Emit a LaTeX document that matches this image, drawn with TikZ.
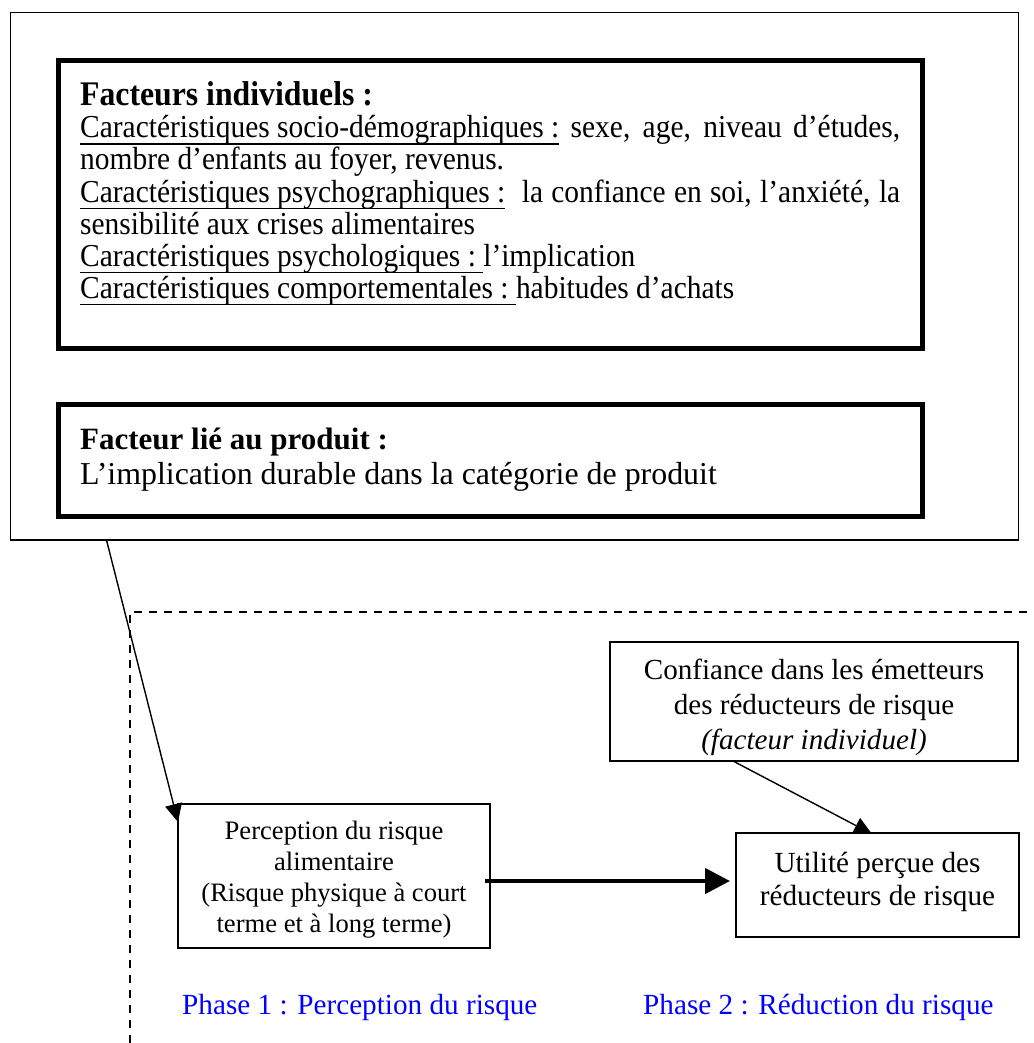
\documentclass[tikz,border=0pt]{standalone}
\usepackage{fontspec}
\setmainfont{Liberation Serif}
% slightly narrowed face for the individual-factors box
\newfontfamily\narrowserif[FakeStretch=0.92]{Liberation Serif}
\usetikzlibrary{arrows.meta,calc}
\definecolor{phaseblue}{RGB}{0,0,255}
% underline drawn at a fixed depth below the baseline
\newcommand\undl[1]{\leavevmode\setbox0\hbox{#1}\rlap{\rule[-7pt]{\wd0}{1.5pt}}\box0\relax}
\newcommand\fs[2]{\fontsize{#1}{#2}\selectfont}
% a line stretched to the full text width of the factor boxes
\newcommand\jline[1]{\hbox to 820pt{#1}}

\begin{document}
\begin{tikzpicture}[x=1pt,y=-1pt,
  framebox/.style={draw, line width=1.5pt, inner sep=0, outer sep=0, anchor=north west},
  thickbox/.style={draw, line width=5pt, inner sep=0, outer sep=0, anchor=north west},
  plainbox/.style={draw, line width=1.4pt, inner sep=0, outer sep=0, anchor=north west},
  txt/.style={inner sep=0, anchor=base west},
  ctxt/.style={inner sep=0, anchor=base},
  indivtxt/.style={txt, font=\narrowserif\fs{32}{32}},
  link/.style={line width=1.4pt, -{Triangle[length=18pt,width=17pt]}},
  boldlink/.style={line width=4.5pt, -{Triangle[length=25pt,width=25pt]}},
  phase/.style={txt, text=phaseblue, font=\fs{29.2}{33}},
  ]
\useasboundingbox (0,0) rectangle (1033,1043);

% outer frame holding the two groups of factors
\node[framebox, minimum width=1008pt, minimum height=527.7pt] (outer) at (10.5,12.3) {};

% individual factors
\node[thickbox, minimum width=864pt, minimum height=287pt] (indiv) at (58.5,61) {};
\node[txt, font=\narrowserif\bfseries\fs{34.5}{36}] (indivT) at (80,106) {Facteurs individuels :};
\node[indivtxt] (indivA) at (80,138)
  {\jline{\undl{Caractéristiques socio-démographiques :} sexe, age, niveau d’études,}};
\node[indivtxt] (indivB) at (80,170) {nombre d’enfants au foyer, revenus.};
\node[indivtxt] (indivC) at (80,202)
  {\jline{\undl{Caractéristiques psychographiques :}\ \ la confiance en soi, l’anxiété, la}};
\node[indivtxt] (indivD) at (80,234) {sensibilité aux crises alimentaires};
\node[indivtxt] (indivE) at (80,266) {\undl{Caractéristiques psychologiques :\ }l’implication};
\node[indivtxt] (indivF) at (80,298) {\undl{Caractéristiques comportementales :\ }habitudes d’achats};

% product factor
\node[thickbox, minimum width=864pt, minimum height=112.5pt] (prod) at (58.5,404) {};
\node[txt, font=\bfseries\fs{31}{36}] (prodT) at (80,449) {Facteur lié au produit :};
\node[txt, font=\fs{31.9}{36}] (prodA) at (80,484) {L’implication durable dans la catégorie de produit};

% phase separator
\draw[line width=1.3pt, dash pattern=on 8pt off 7pt] (130,1043) -- (130,612) -- (1027,612);

% risk perception
\node[plainbox, minimum width=312pt, minimum height=144pt] (perc) at (178,804) {};
\node[ctxt, font=\fs{26.6}{31}] (percA) at (334,839) {Perception du risque};
\node[ctxt, font=\fs{26.6}{31}] (percB) at (334,870) {alimentaire};
\node[ctxt, font=\fs{26.6}{31}] (percC) at (334,901) {(Risque physique à court};
\node[ctxt, font=\fs{26.6}{31}] (percD) at (334,932) {terme et à long terme)};

% trust in the senders of risk relievers
\node[plainbox, minimum width=408pt, minimum height=119pt] (conf) at (610,642) {};
\node[ctxt, font=\fs{29.1}{35}] (confA) at (814,679) {Confiance dans les émetteurs};
\node[ctxt, font=\fs{29.1}{35}] (confB) at (814,714) {des réducteurs de risque};
\node[ctxt, font=\itshape\fs{29.1}{35}] (confC) at (814,749) {(facteur individuel)};

% perceived usefulness of risk relievers
\node[plainbox, minimum width=283pt, minimum height=104pt] (util) at (736,833) {};
\node[ctxt, font=\fs{29.2}{33}] (utilA) at (877.5,872) {Utilité perçue des};
\node[ctxt, font=\fs{29.2}{33}] (utilB) at (877.5,905) {réducteurs de risque};

% links
\draw[link] ($(outer.south west)+(96,0)$) -- ($(perc.north west)+(0,18)$);
\draw[boldlink] ($(perc.north east)+(-5,77)$) -- ($(util.north west)+(-6,48)$);
\draw[link] ($(conf.south west)+(123,0)$) -- ($(util.north west)+(136,1)$);

% phase labels
\node[phase] (phase1) at (182,1014) {Phase 1 : Perception du risque};
\node[phase] (phase2) at (643,1014) {Phase 2 : Réduction du risque};
\end{tikzpicture}
\end{document}
